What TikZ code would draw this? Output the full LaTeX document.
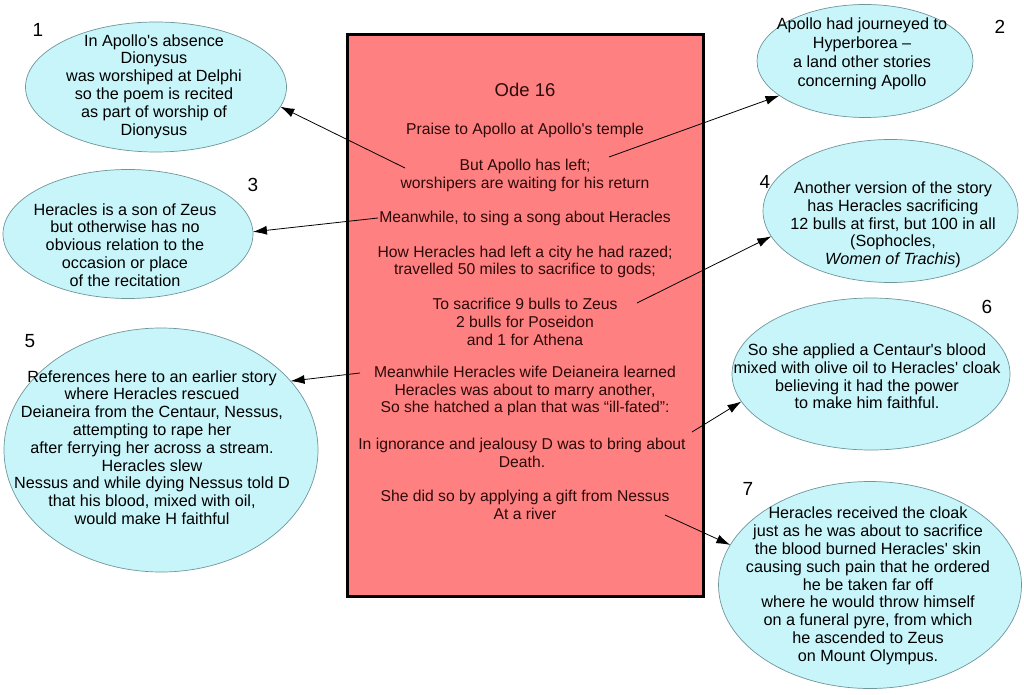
\documentclass[tikz,border=0pt]{standalone}
\usepackage{fontspec}
\setmainfont{Liberation Sans}
\usetikzlibrary{shapes.geometric, arrows.meta}
\definecolor{odered}{RGB}{255,128,128}
\definecolor{odetext}{RGB}{45,10,10}
\definecolor{bubblefill}{RGB}{200,245,250}
\definecolor{bubbledraw}{RGB}{110,150,155}
\newcommand{\qs}{\textquotesingle}

\begin{document}
\begin{tikzpicture}[x=1pt, y=-1pt,
				>={Latex[length=14pt,width=9pt]},   %Pfeilspitzen
				bubble/.style={ellipse, draw=bubbledraw, fill=bubblefill, line width=0.7pt, inner sep=0pt, outer sep=0pt},
				bubtxt/.style={align=center, font=\fontsize{16.2}{17.8}\selectfont},
				odetxt/.style={align=center, text=odetext, font=\fontsize{15.7}{17.8}\selectfont},
				num/.style={font=\fontsize{19}{19}\selectfont},
				link/.style={->, line width=0.8pt}]
				\useasboundingbox (0,0) rectangle (1024,695);
				% Kasten mit der Ode
				\node[draw, line width=3pt, fill=odered, minimum width=356, minimum height=561, inner sep=0pt] (ode) at (525,315.5) {};
				\node[odetxt, font=\fontsize{18.5}{20}\selectfont] (title) at (525,90) {Ode 16};
				\node[odetxt] (praise) at (525,130) {Praise to Apollo at Apollo\qs s temple};
				\node[odetxt] (left) at (525,175.5) {But Apollo has left;\\ worshipers are waiting for his return};
				\node[odetxt] (sing) at (525,218) {Meanwhile, to sing a song about Heracles};
				\node[odetxt] (razed) at (525,262) {How Heracles had left a city he had razed;\\ travelled 50 miles to sacrifice to gods;};
				\node[odetxt] (bulls) at (525,322) {To sacrifice 9 bulls to Zeus\\ 2 bulls for Poseidon\\ and 1 for Athena};
				\node[odetxt] (wife) at (525,391) {Meanwhile Heracles wife Deianeira learned\\ Heracles was about to marry another,\\ So she hatched a plan that was “ill-fated”:};
				\node[odetxt] (death) at (522,453) {In ignorance and jealousy D was to bring about\\ Death.};
				\node[odetxt] (gift) at (525,505) {She did so by applying a gift from Nessus\\ At a river};
				% Ellipsen
				\node[bubble, minimum width=261, minimum height=130] (b1) at (156,87) {};
				\node[bubtxt] (t1) at (154,86.5) {In Apollo\qs s absence\\ Dionysus\\ was worshiped at Delphi\\ so the poem is recited\\ as part of worship of\\ Dionysus};
				\node[num] (n1) at (38,30) {1};
				\node[bubble, minimum width=216, minimum height=113] (b2) at (865,61) {};
				\node[bubtxt, font=\fontsize{16.2}{19}\selectfont] (t2) at (862,54) {Apollo had journeyed to\\ Hyperborea --\\ a land other stories\\ concerning Apollo};
				\node[num] (n2) at (1000,27) {2};
				\node[bubble, minimum width=250, minimum height=129] (b3) at (128,234) {};
				\node[bubtxt] (t3) at (125,245) {Heracles is a son of Zeus\\ but otherwise has no\\ obvious relation to the\\ occasion or place\\ of the recitation};
				\node[num] (n3) at (253,185) {3};
				\node[bubble, minimum width=255, minimum height=143] (b4) at (890.5,211) {};
				\node[bubtxt] (t4) at (893,225) {Another version of the story\\ has Heracles sacrificing\\ 12 bulls at first, but 100 in all\\ (Sophocles,\\ \textit{Women of Trachis})};
				\node[num] (n4) at (765,182) {4};
				\node[bubble, minimum width=314, minimum height=244] (b5) at (161,450) {};
				\node[bubtxt] (t5) at (152,447.5) {References here to an earlier story\\ where Heracles rescued\\ Deianeira from the Centaur, Nessus,\\ attempting to rape her\\ after ferrying her across a stream.\\ Heracles slew\\ Nessus and while dying Nessus told D\\ that his blood, mixed with oil,\\ would make H faithful};
				\node[num] (n5) at (30,341) {5};
				\node[bubble, minimum width=278, minimum height=152] (b6) at (871,374) {};
				\node[bubtxt] (t6) at (867,376.5) {So she applied a Centaur\qs s blood\\ mixed with olive oil to Heracles\qs\ cloak\\ believing it had the power\\ to make him faithful.};
				\node[num] (n6) at (987,307) {6};
				\node[bubble, minimum width=303, minimum height=207] (b7) at (870,585) {};
				\node[bubtxt] (t7) at (868,586) {Heracles received the cloak\\ just as he was about to sacrifice\\ the blood burned Heracles\qs\ skin\\ causing such pain that he ordered\\ he be taken far off\\ where he would throw himself\\ on a funeral pyre, from which\\ he ascended to Zeus\\ on Mount Olympus.};
				\node[num] (n7) at (748,489) {7};
				% Pfeile
				\coordinate (s1) at (405,168);
				\coordinate (s2) at (609,157);
				\coordinate (s3) at (378,218);
				\coordinate (s4) at (637,303);
				\coordinate (s5) at (360,373);
				\coordinate (s6) at (692,432);
				\coordinate (s7) at (665,515);
				\draw[link] (s1) -- (b1.-9);
				\draw[link] (s2) -- (b2.202.5);
				\draw[link] (s3) -- (b3.1);
				\draw[link] (s4) -- (b4.192.3);
				\draw[link] (s5) -- (b5.28.2);
				\draw[link] (s6) -- (b6.192.4);
				\draw[link] (s7) -- (b7.164.3);
			\end{tikzpicture}
\end{document}
